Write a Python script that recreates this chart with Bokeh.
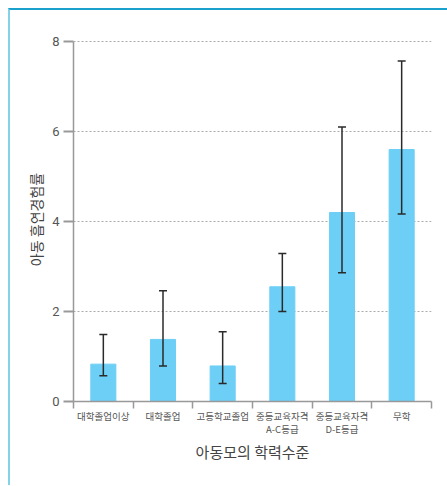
from bokeh.plotting import figure
from bokeh.layouts import column
from bokeh.models import ColumnDataSource, Whisker, TeeHead, FixedTicker, Range1d
from bokeh.embed import file_html
from bokeh.resources import INLINE

categories = ["대학졸업이상", "대학졸업", "고등학교졸업",
              "중등교육자격\nA-C등급", "중등교육자격\nD-E등급", "무학"]
rate = [0.83, 1.38, 0.79, 2.55, 4.2, 5.6]
lower = [0.57, 0.79, 0.40, 2.0, 2.86, 4.17]
upper = [1.49, 2.46, 1.55, 3.29, 6.1, 7.57]
y_ticks = [0, 2, 4, 6, 8]

pos = [i + 0.5 for i in range(len(categories))]
src = ColumnDataSource(dict(x=pos, top=rate, lower=lower, upper=upper))

p = figure(width=437, height=475, output_backend="svg", toolbar_location=None,
           x_range=Range1d(0, len(categories)), y_range=Range1d(0, 8.09),
           min_border_left=63, min_border_right=16, min_border_top=27, min_border_bottom=84)
p.outline_line_color = None

p.vbar(x="x", top="top", bottom=0, width=0.42, source=src, color="#6dcff6")
w = Whisker(source=src, base="x", upper="upper", lower="lower",
            line_color="#2a2a2a", line_width=1.5, level="overlay",
            upper_head=TeeHead(size=8, line_color="#2a2a2a", line_width=1.5),
            lower_head=TeeHead(size=8, line_color="#2a2a2a", line_width=1.5))
p.add_layout(w)

# x axis
p.xaxis.ticker = FixedTicker(ticks=pos, minor_ticks=list(range(len(categories) + 1)))
p.xaxis.major_label_overrides = {pos[i]: categories[i] for i in range(len(categories))}
p.xaxis.major_tick_out = 0
p.xaxis.major_tick_in = 0
p.xaxis.minor_tick_out = 7
p.xaxis.minor_tick_in = 0
p.xaxis.minor_tick_line_color = "#999999"
p.xaxis.minor_tick_line_width = 1.5
p.xaxis.axis_line_color = "#999999"
p.xaxis.axis_line_width = 1.5
p.xaxis.major_label_standoff = 0
p.xaxis.major_label_text_font = "Noto Sans CJK KR"
p.xaxis.major_label_text_font_size = "9.5px"
p.xaxis.major_label_text_line_height = 0.95
p.xaxis.major_label_text_color = "#555555"
p.xaxis.axis_label = "아동모의 학력수준"
p.xaxis.axis_label_text_font = "Noto Sans CJK KR"
p.xaxis.axis_label_text_font_size = "15px"
p.xaxis.axis_label_text_font_style = "normal"
p.xaxis.axis_label_text_color = "#444444"
p.xaxis.axis_label_standoff = 2

# y axis
p.yaxis.ticker = FixedTicker(ticks=y_ticks)
p.yaxis.bounds = (0, 8)
p.yaxis.major_tick_out = 10
p.yaxis.major_tick_in = 0
p.yaxis.minor_tick_line_color = None
p.yaxis.major_tick_line_color = "#999999"
p.yaxis.major_tick_line_width = 2
p.yaxis.axis_line_color = "#999999"
p.yaxis.axis_line_width = 1.5
p.yaxis.major_label_standoff = 4
p.yaxis.major_label_text_font = "Roboto"
p.yaxis.major_label_text_font_size = "13px"
p.yaxis.major_label_text_color = "#555555"
p.yaxis.axis_label = "아동 흡연경험률"
p.yaxis.axis_label_text_font = "Noto Sans CJK KR"
p.yaxis.axis_label_text_font_size = "14px"
p.yaxis.axis_label_text_font_style = "normal"
p.yaxis.axis_label_text_color = "#444444"
p.yaxis.axis_label_standoff = 3

p.xgrid.grid_line_color = None
p.ygrid.grid_line_color = "#aaaaaa"
p.ygrid.grid_line_dash = "2 2"
p.ygrid.grid_line_width = 1

layout = column(p, margin=(8, 0, 0, 8),
                styles={"border-top": "2px solid #1ba0cc", "border-left": "2px solid #84d2e8"})

open("out.html", "w").write(file_html(layout, INLINE))
